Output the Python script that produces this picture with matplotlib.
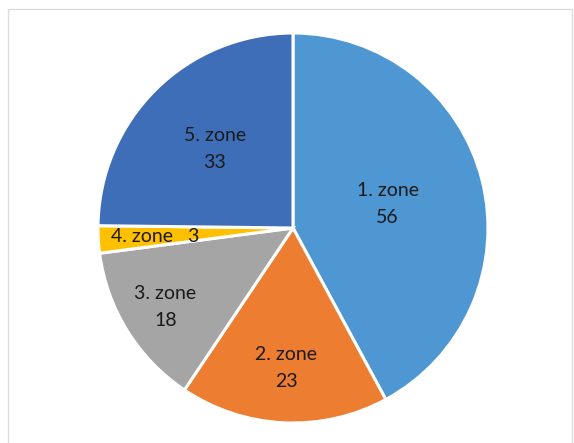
import numpy as np
import matplotlib
matplotlib.use("Agg")
import matplotlib.pyplot as plt
from matplotlib.patches import Rectangle

zones = ["1. zone", "2. zone", "3. zone", "4. zone", "5. zone"]
values = [56, 23, 18, 3, 33]
colors = ["#4E97D2", "#ED7D31", "#A5A5A5", "#FFC000", "#3F6EB8"]
label_dist = [0.50, 0.72, 0.77, 0.71, 0.57]

W, H = 574, 443
fig = plt.figure(figsize=(W / 100, H / 100), dpi=100)
fig.patches.append(Rectangle((8 / W, -0.1), (572 - 8) / W, 1.1 - 9 / H, transform=fig.transFigure,
                             fill=False, edgecolor="#DCDCDC", linewidth=1.0))
cx, cy, R = 293, 228, 195
ax = fig.add_axes([(cx - R) / W, (H - cy - R) / H, 2 * R / W, 2 * R / H])
wedges, _ = ax.pie(values, colors=colors, startangle=90, counterclock=False,
                   wedgeprops=dict(edgecolor="white", linewidth=2.2), radius=1)
ax.set_xlim(-1, 1)
ax.set_ylim(-1, 1)
ax.set_aspect("equal")
ax.axis("off")

for w, name, v, d in zip(wedges, zones, values, label_dist):
    ang = np.deg2rad((w.theta1 + w.theta2) / 2)
    x, y = d * np.cos(ang), d * np.sin(ang)
    if v < 5:
        txt = f"{name}   {v}"
    else:
        txt = f"{name}\n{v}"
    ax.text(x, y, txt, ha="center", va="center", fontsize=14, family="Lato",
            color="#1A1A1A", linespacing=1.72)

fig.savefig("out.png", dpi=100)
